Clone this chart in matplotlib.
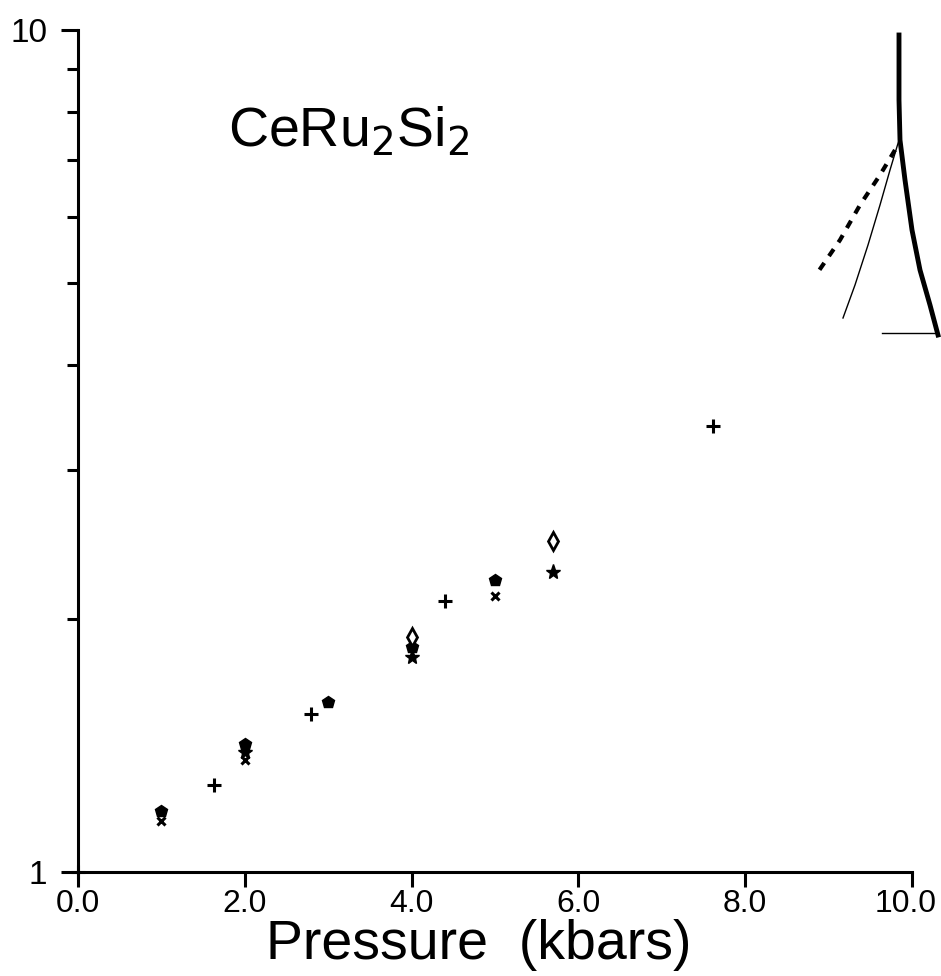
import numpy as np
import matplotlib
matplotlib.use("Agg")
import matplotlib.pyplot as plt
import matplotlib.transforms as mtransforms
from matplotlib.lines import Line2D
from matplotlib.ticker import FixedLocator, NullFormatter

plt.rcParams["font.family"] = ["Liberation Sans", "DejaVu Sans"]

# values (pressure in kbar, log y)
plus_x = [0.0, 1.63, 2.79, 4.40, 7.61]
plus_y = [1.0, 1.27, 1.54, 2.10, 3.39]

pent_x = [1.0, 2.0, 3.0, 4.0, 5.0]
pent_y = [1.18, 1.42, 1.59, 1.85, 2.22]

cross_x = [1.0, 2.0, 5.0]
cross_y = [1.15, 1.36, 2.13]

star_x = [2.0, 4.0, 5.7]
star_y = [1.39, 1.80, 2.27]

diam_x = [4.0, 5.7]
diam_y = [1.90, 2.47]

xticks = [0, 2, 4, 6, 8, 10]
xtick_labels = ["0.0", "2.0", "4.0", "6.0", "8.0", "10.0"]

# the stray sketch in the upper right corner of the scan (figure pixels)
sketch_main = ([899, 899, 900, 905, 912, 920, 930, 938], [35, 100, 140, 180, 230, 270, 305, 335])
sketch_thin = ([899, 890, 880, 868, 855, 843], [140, 170, 205, 245, 285, 318])
sketch_dash = ([895, 880, 860, 840, 818], [150, 175, 205, 240, 272])
sketch_base = ([882, 938], [333, 333])

W, H = 941, 976
fig = plt.figure(figsize=(W / 100, H / 100), dpi=100)
ax = fig.add_axes([78 / W, 1 - 872 / H, (912 - 78) / W, (872 - 30) / H])

ax.set_yscale("log")
ax.set_xlim(0, 10)
ax.set_ylim(1, 10)

ms = 9
ax.plot(plus_x, plus_y, "+", color="black", ms=ms + 1, mew=2.2, clip_on=False)
ax.plot(pent_x, pent_y, "p", color="black", ms=ms, clip_on=False)
ax.plot(cross_x, cross_y, "x", color="black", ms=ms - 3, mew=2.2, clip_on=False)
ax.plot(star_x, star_y, "*", color="black", ms=ms + 2, clip_on=False)
ax.plot(diam_x, diam_y, "d", mfc="white", mec="black", ms=ms, mew=2, clip_on=False)

for side in ["top", "right"]:
    ax.spines[side].set_visible(False)
for side in ["left", "bottom"]:
    ax.spines[side].set_linewidth(2.2)

ax.set_xticks(xticks)
ax.set_xticklabels(xtick_labels)
ax.yaxis.set_major_locator(FixedLocator([1, 10]))
ax.yaxis.set_minor_locator(FixedLocator([2, 3, 4, 5, 6, 7, 8, 9]))
ax.yaxis.set_minor_formatter(NullFormatter())
ax.set_yticklabels(["1", "10"])

ax.tick_params(axis="x", direction="out", length=11, width=2.2, labelsize=23, pad=1)
ax.tick_params(axis="y", which="major", direction="out", length=12, width=2.2, labelsize=24, pad=10)
ax.tick_params(axis="y", which="minor", direction="out", length=8, width=2.2)

# nudge the last x label so it stays inside the picture
last = ax.get_xticklabels()[-1]
last.set_transform(last.get_transform() + mtransforms.ScaledTranslation(-0.06, 0, fig.dpi_scale_trans))

fig.text(479 / W, 1 - 945 / H, "Pressure  (kbars)", fontsize=40, ha="center", va="center")

ax.text(0.18, 0.88, r"CeRu$_2$Si$_2$", transform=ax.transAxes, fontsize=40,
        ha="left", va="center")

def add_sketch(xs, ys, **kw):
    fx = [x / W for x in xs]
    fy = [1 - y / H for y in ys]
    fig.add_artist(Line2D(fx, fy, transform=fig.transFigure, color="black", **kw))

add_sketch(*sketch_main, lw=3.5)
add_sketch(*sketch_thin, lw=1)
add_sketch(*sketch_dash, lw=3, ls=(0, (2, 2)))
add_sketch(*sketch_base, lw=1)

fig.savefig("out.png", dpi=100)
